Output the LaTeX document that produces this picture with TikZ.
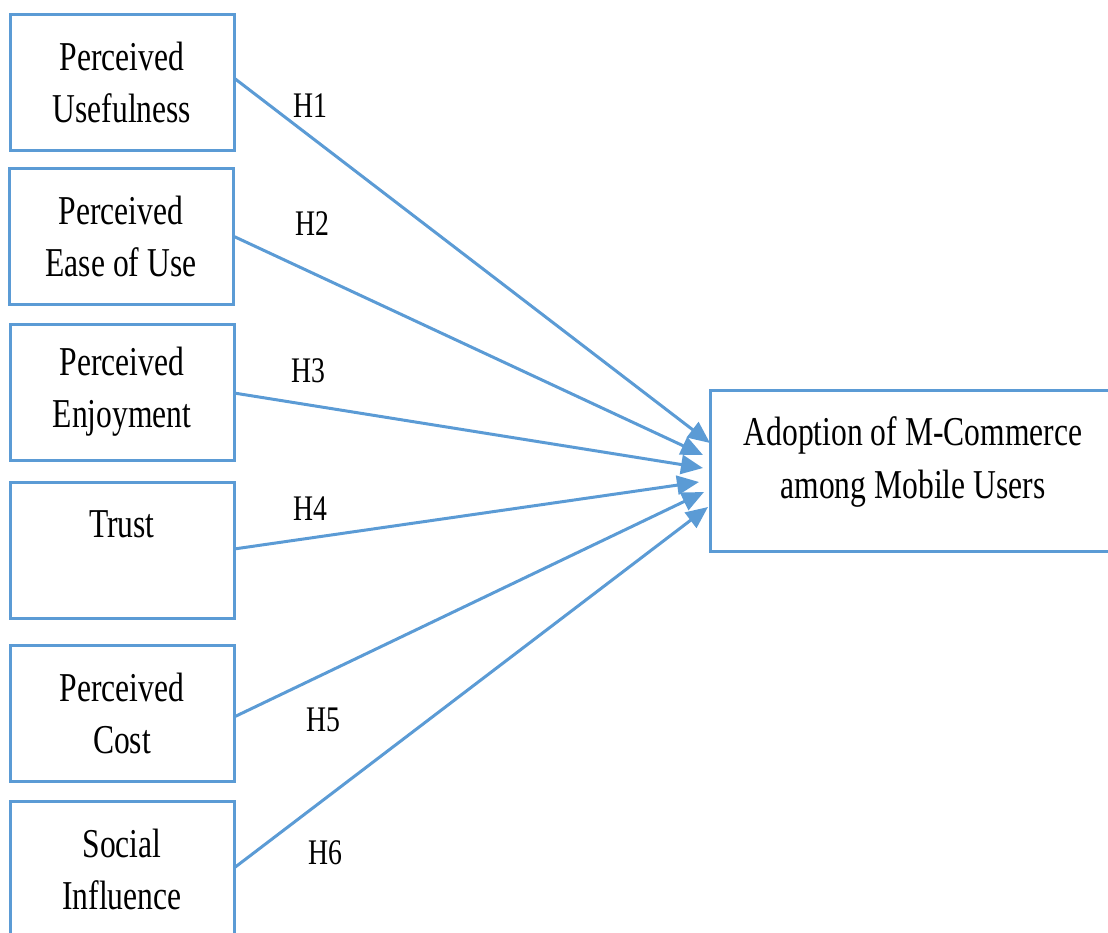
\documentclass[tikz,border=0pt]{standalone}
\usepackage{fontspec}
\setmainfont[FakeStretch=0.77]{Liberation Serif}
\usetikzlibrary{arrows.meta}
\definecolor{lineblue}{RGB}{91,155,213}
\begin{document}
\begin{tikzpicture}[x=1pt,y=-1pt,
  box/.style={draw=lineblue,line width=3pt,minimum width=224pt,minimum height=136pt,
    inner sep=0pt,align=center,font=\fontsize{41}{52}\selectfont},
  boxtext/.style={inner sep=0pt,align=center,font=\fontsize{41}{53}\selectfont},
  conn/.style={draw=lineblue,line width=3pt,-{Triangle[length=22pt,width=19pt]}},
  hlab/.style={anchor=base,font=\fontsize{36}{40}\selectfont}]
\useasboundingbox (0,0) rectangle (1108,932);
\clip (0,0) rectangle (1108,932);
\node[box] (b1) at (122,82) {Perceived\\Usefulness};
\node[box] (b2) at (121,236.5) {Perceived\\Ease of Use};
\node[box] (b3) at (122,392) {Perceived\\Enjoyment};
\node[box] (b4) at (122,550) {Trust\\\mbox{}};
\node[box] (b5) at (122,713) {Perceived\\Cost};
\node[box] (b6) at (122,869) {Social\\Influence};
\node[box,minimum width=406pt,minimum height=161pt] (tgt) at (913,470.5) {};
\node[boxtext] (tgtlabel) at (913,462) {Adoption of M-Commerce\\among Mobile Users};
\coordinate (t1) at (710,443);
\coordinate (t2) at (703,455);
\coordinate (t3) at (703,468);
\coordinate (t4) at (699,482);
\coordinate (t5) at (704,492);
\coordinate (t6) at (708,507);
\coordinate (s1) at (234,78);
\coordinate (s2) at (233,236);
\coordinate (s3) at (234,393);
\coordinate (s4) at (234,549);
\coordinate (s5) at (234,717);
\coordinate (s6) at (234,868);
\draw[conn] (s1) -- (t1);
\draw[conn] (s2) -- (t2);
\draw[conn] (s3) -- (t3);
\draw[conn] (s4) -- (t4);
\draw[conn] (s5) -- (t5);
\draw[conn] (s6) -- (t6);
\node[hlab] (h1) at (310,117) {H1};
\node[hlab] (h2) at (312,235) {H2};
\node[hlab] (h3) at (308,382) {H3};
\node[hlab] (h4) at (310,520) {H4};
\node[hlab] (h5) at (323,731) {H5};
\node[hlab] (h6) at (325,864) {H6};
\end{tikzpicture}
\end{document}
